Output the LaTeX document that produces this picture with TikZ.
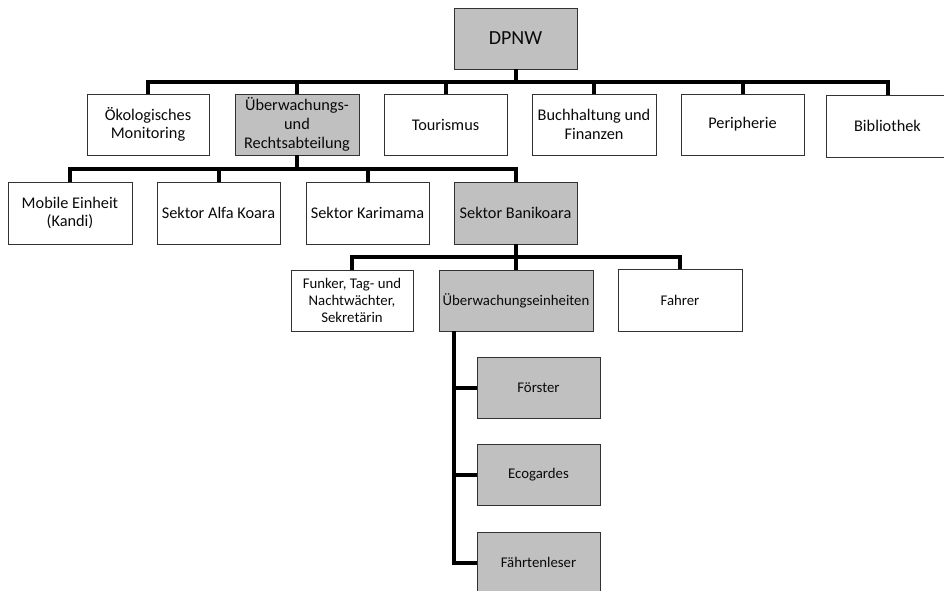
\documentclass[tikz,border=0pt]{standalone}
\usepackage{fontspec}
\setmainfont{Carlito}
\definecolor{boxgray}{RGB}{192,192,192}
\definecolor{edgegray}{RGB}{50,50,50}
\definecolor{txt}{RGB}{10,10,10}
\tikzset{
  box/.style={draw=edgegray, line width=0.9pt, fill=white, rectangle, inner sep=0pt,
    minimum height=61pt, align=center, text=txt,
    font=\fontsize{16.3}{18.7}\selectfont},
  gbox/.style={box, fill=boxgray},
  small/.style={font=\fontsize{14.8}{16.7}\selectfont},
  bus/.style={line width=4pt, line join=miter, black}
}
\begin{document}
\begin{tikzpicture}[x=1pt,y=-1pt]
\clip (0,0) rectangle (944,591);
\fill[white] (0,0) rectangle (944,591);
% level 0
\node[gbox, minimum width=123pt, font=\fontsize{20}{24}\selectfont] (dpnw) at (515.5,38.5) {DPNW};
% level 1
\node[box, minimum width=122pt] (oeko) at (148,124.5) {Ökologisches\\Monitoring};
\node[gbox, minimum width=124pt] (ueber) at (297,124.5) {Überwachungs-\\und\\Rechtsabteilung};
\node[box, minimum width=123pt] (tour) at (445.5,124.5) {Tourismus};
\node[box, minimum width=124pt] (buch) at (594,124.5) {Buchhaltung und\\Finanzen};
\node[box, minimum width=123pt] (peri) at (742.5,124.5) {Peripherie};
\node[box, minimum width=123pt, minimum height=62pt] (bib) at (887.5,126) {Bibliothek};
% level 2
\node[box, minimum width=124pt, minimum height=62pt] (mobile) at (70,213) {Mobile Einheit\\(Kandi)};
\node[box, minimum width=123pt, minimum height=62pt] (alfa) at (218.5,213) {Sektor Alfa Koara};
\node[box, minimum width=123pt, minimum height=62pt] (kari) at (367.5,213) {Sektor Karimama};
\node[gbox, minimum width=123pt, minimum height=62pt] (bani) at (515.5,213) {Sektor Banikoara};
% level 3
\node[box, small, minimum width=122pt] (funk) at (352,300.5) {Funker, Tag- und\\Nachtwächter,\\Sekretärin};
\node[gbox, small, minimum width=154pt] (ueein) at (516,300.5) {Überwachungseinheiten};
\node[box, small, minimum width=124pt, minimum height=62pt] (fahr) at (680,300) {Fahrer};
% level 4
\node[gbox, small, minimum width=123pt] (foer) at (538.5,387.5) {Förster};
\node[gbox, small, minimum width=123pt] (eco) at (538.5,474.5) {Ecogardes};
\node[gbox, small, minimum width=123pt] (faehr) at (538.5,562.5) {Fährtenleser};
% connectors level 0 -> 1
\foreach \c in {oeko,ueber,tour,buch,peri,bib}
  \draw[bus] (dpnw.south) -- ++(0,12.5) -| (\c.north);
% level 1 -> 2
\foreach \c in {mobile,alfa,kari,bani}
  \draw[bus] (ueber.south) -- ++(0,14) -| (\c.north);
% level 2 -> 3
\foreach \c in {funk,ueein,fahr}
  \draw[bus] (bani.south) -- ++(0,13) -| (\c.north);
% level 3 -> 4
\coordinate (trunk) at ([xshift=15pt]ueein.south west);
\foreach \c in {foer,eco,faehr}
  \draw[bus] (trunk) |- (\c.west);
\end{tikzpicture}
\end{document}
